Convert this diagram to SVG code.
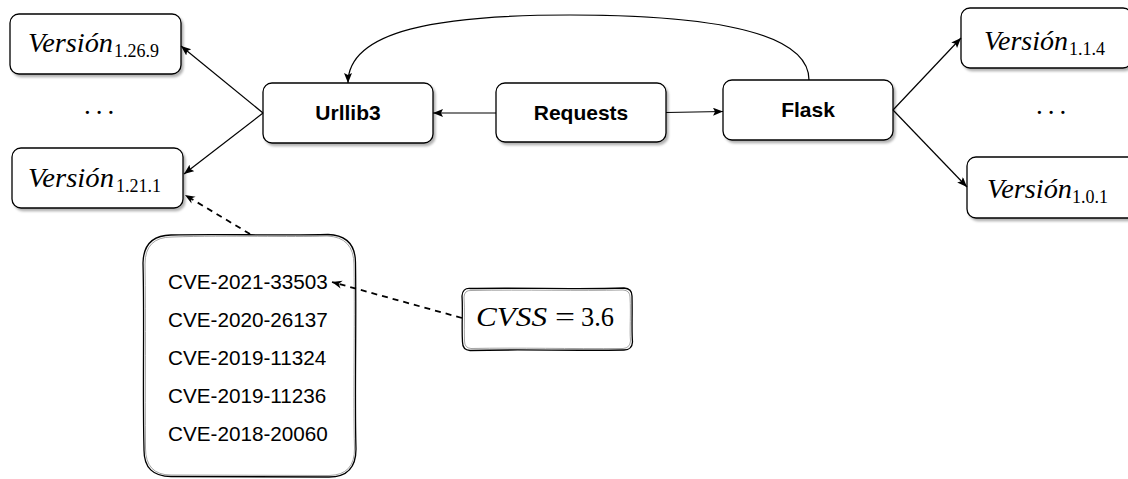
<svg xmlns="http://www.w3.org/2000/svg" width="1128" height="479" viewBox="0 0 1128 479">
  <defs>
    <style>
      .box { fill: #ffffff; stroke: #000000; stroke-width: 1.3; filter: url(#shadow); }
      .lbl { font-family: "Liberation Sans", Arial, sans-serif; font-size: 21px; font-weight: bold; fill: #000; text-anchor: middle; }
      .cve { font-family: "Liberation Sans", Arial, sans-serif; font-size: 20.7px; fill: #000; }
      .math { font-family: "Liberation Serif", "Times New Roman", serif; font-size: 27px; font-style: italic; fill: #000; }
      .sub { font-family: "Liberation Serif", "Times New Roman", serif; font-size: 18px; font-style: normal; fill: #000; }
      .up { font-style: normal; }
      .dots { font-family: "Liberation Serif", serif; font-size: 27px; fill: #000; letter-spacing: 5px; }
      .edge { fill: none; stroke: #000; stroke-width: 1.2; }
      .dash { fill: none; stroke: #000; stroke-width: 1.8; stroke-dasharray: 6 5; }
      .sketch { fill: #ffffff; stroke: #000; stroke-width: 1.3; }
      .sketch2 { fill: none; stroke: #9a9a9a; stroke-width: 0.9; }
    </style>
    <filter id="shadow" x="-10%" y="-10%" width="130%" height="140%">
      <feDropShadow dx="2" dy="2.5" stdDeviation="0.8" flood-color="#000" flood-opacity="0.3"/>
    </filter>
    <marker id="arrow" markerUnits="userSpaceOnUse" markerWidth="11" markerHeight="9" refX="10" refY="4" orient="auto">
      <path d="M0,0 L10,4 L0,8 L2,4 z" fill="#000"/>
    </marker>
    <marker id="arrowDash" markerUnits="userSpaceOnUse" markerWidth="11" markerHeight="9" refX="10" refY="4" orient="auto">
      <path d="M0,0 L10,4 L0,8 L3,4 z" fill="#000"/>
    </marker>
  </defs>

  <!-- package nodes -->
  <g id="node-urllib3">
    <rect class="box" x="263" y="83" width="170" height="60" rx="9"/>
    <text class="lbl" x="348" y="120">Urllib3</text>
  </g>
  <g id="node-requests">
    <rect class="box" x="496" y="83" width="170" height="59" rx="9"/>
    <text class="lbl" x="581" y="120">Requests</text>
  </g>
  <g id="node-flask">
    <rect class="box" x="723" y="80" width="170" height="60" rx="9"/>
    <text class="lbl" x="808" y="117">Flask</text>
  </g>

  <!-- version nodes -->
  <g id="node-urllib3-1269">
    <rect class="box" x="10" y="14" width="171" height="60" rx="9"/>
    <text class="math" x="28" y="52" textLength="85" lengthAdjust="spacingAndGlyphs">Versión</text>
    <text class="sub" x="114" y="57">1.26.9</text>
  </g>
  <g id="node-urllib3-1211">
    <rect class="box" x="12" y="148" width="171" height="60" rx="9"/>
    <text class="math" x="28" y="187" textLength="86" lengthAdjust="spacingAndGlyphs">Versión</text>
    <text class="sub" x="116" y="192">1.21.1</text>
  </g>
  <g id="node-flask-114">
    <rect class="box" x="961" y="8" width="171" height="60" rx="9"/>
    <text class="math" x="984" y="50" textLength="84" lengthAdjust="spacingAndGlyphs">Versión</text>
    <text class="sub" x="1069" y="55">1.1.4</text>
  </g>
  <g id="node-flask-101">
    <rect class="box" x="967" y="157" width="171" height="61" rx="9"/>
    <text class="math" x="987" y="198" textLength="85" lengthAdjust="spacingAndGlyphs">Versión</text>
    <text class="sub" x="1072" y="203">1.0.1</text>
  </g>

  <!-- ellipses between versions -->
  <g id="dots-left">
    <text class="dots" x="84" y="114">...</text>
  </g>
  <g id="dots-right">
    <text class="dots" x="1036" y="114">...</text>
  </g>

  <!-- hand-drawn vulnerability list -->
  <g id="node-cves">
    <path class="sketch" d="M171,235 C220,233.5 280,236 328,234.5 Q356,235.5 355.5,264 C356.5,320 354.5,400 356,449 Q356,477 329,477 L172,476.5 Q143.5,477 144,449 C142.5,390 144.5,320 143,263 Q143.5,235.5 171,235 z"/>
    <path class="sketch2" d="M172,237 C230,235 290,237.5 327,236 Q354,237 354,265 C355,330 353,400 354.5,448 Q355,475 329,475.5 L171,475 Q145.5,475 145.5,448 C145,390 146,320 145,264 Q145,237 172,237 z"/>
    <text class="cve" x="168" y="289">CVE-2021-33503</text>
    <text class="cve" x="168" y="327">CVE-2020-26137</text>
    <text class="cve" x="168" y="365">CVE-2019-11324</text>
    <text class="cve" x="168" y="403">CVE-2019-11236</text>
    <text class="cve" x="168" y="441">CVE-2018-20060</text>
  </g>

  <!-- hand-drawn score node -->
  <g id="node-cvss">
    <path class="sketch" d="M470,288.5 C520,287.5 580,289.5 624,288 Q632,288.5 632,296 C632.5,315 631.5,330 632.5,342 Q632,350 624,350 C570,351 520,349 470,350.5 Q462.5,350 462.5,342 C461.5,325 463,310 462,296 Q462.5,288 470,288.5 z"/>
    <path class="sketch2" d="M471,290.5 C525,289.5 580,291 623,290 Q630,290.5 630,297 C631,315 629.5,330 630.5,341 Q630,348 623,348.5 C570,349 520,347.5 471,348.5 Q464.5,348 464.5,341 C464,325 465,310 464,297 Q464.5,290 471,290.5 z"/>
    <text class="math" y="326"><tspan x="476" textLength="71" lengthAdjust="spacingAndGlyphs">CVSS</tspan><tspan class="up" x="555" textLength="20" lengthAdjust="spacingAndGlyphs">=</tspan><tspan class="up" x="581" textLength="33" lengthAdjust="spacingAndGlyphs">3.6</tspan></text>
  </g>

  <!-- connectors -->
  <g id="connectors">
    <line class="edge" x1="496" y1="113" x2="433" y2="113" marker-end="url(#arrow)"/>
    <line class="edge" x1="666" y1="112.5" x2="723" y2="111.5" marker-end="url(#arrow)"/>
    <line class="edge" x1="263" y1="113" x2="181" y2="46" marker-end="url(#arrow)"/>
    <line class="edge" x1="263" y1="113" x2="184" y2="174" marker-end="url(#arrow)"/>
    <line class="edge" x1="893" y1="110" x2="961" y2="38" marker-end="url(#arrow)"/>
    <line class="edge" x1="893" y1="110" x2="967" y2="187" marker-end="url(#arrow)"/>
    <path class="edge" d="M809,80 C809,25 680,15 570,15 C440,15 348,30 348,83" marker-end="url(#arrow)"/>
    <line class="dash" x1="250" y1="234" x2="185" y2="195" marker-end="url(#arrowDash)"/>
    <line class="dash" x1="462" y1="318" x2="332" y2="282" marker-end="url(#arrowDash)"/>
  </g>
</svg>
